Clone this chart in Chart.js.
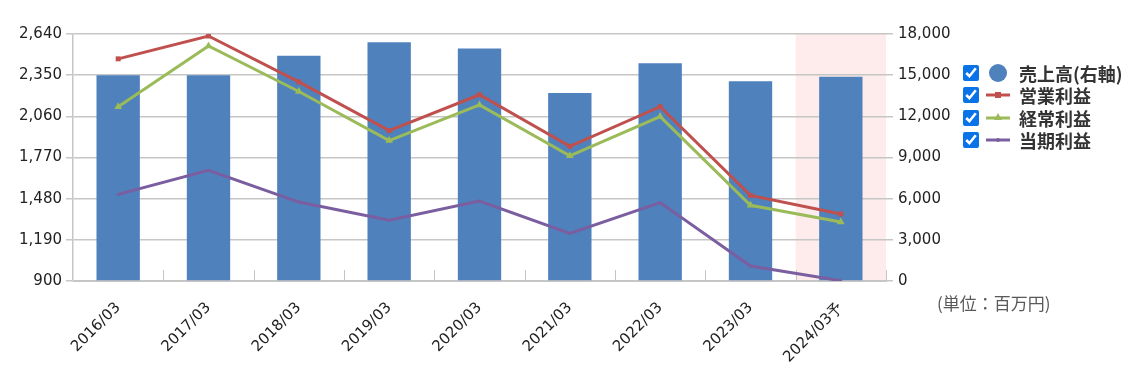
<!DOCTYPE html>
<html>
<head>
<meta charset="utf-8">
<script src="https://cdn.jsdelivr.net/npm/chart.js@4.4.1/dist/chart.umd.min.js"></script>
<style>
  html, body { margin: 0; padding: 0; background: #fff; }
  #wrap { position: relative; width: 1136px; height: 376px; }
  #c { position: absolute; left: 0; top: 0; }
  #legend { position: absolute; left: 963px; top: 62px; font-family: "Noto Sans CJK JP", sans-serif; font-weight: bold; font-size: 18px; color: #333; }
  .row { display: flex; align-items: center; height: 22.3px; }
  .row input { margin: 0 6px 0 0; width: 16px; height: 16px; accent-color: #0a73e8; }
  .ico { width: 26px; height: 18px; position: relative; margin-right: 8px; }
  #unit { position: absolute; left: 937px; top: 290px; font-family: "Noto Sans CJK JP", sans-serif; font-size: 17px; color: #595959; }
</style>
</head>
<body>
<div id="wrap">
  <canvas id="c" width="1136" height="376"></canvas>
  <div id="legend"></div>
  <div id="unit">(単位：百万円)</div>
</div>
<script>
const categories = ["2016/03","2017/03","2018/03","2019/03","2020/03","2021/03","2022/03","2023/03","2024/03予"];
const sales = [15000, 15000, 16420, 17400, 16950, 13700, 15870, 14560, 14880];
const operatingProfit = [2465, 2626, 2303, 1959, 2212, 1849, 2128, 1503, 1372];
const ordinaryProfit = [2128, 2556, 2235, 1889, 2140, 1782, 2058, 1433, 1316];
const netProfit = [1510, 1679, 1456, 1328, 1463, 1235, 1452, 1005, 902];
const leftTicks = [900, 1190, 1480, 1770, 2060, 2350, 2640];
const rightTicks = [0, 3000, 6000, 9000, 12000, 15000, 18000];
const forecastIndex = 8;

const GRID = '#c6c6c6';
const tickFont = { family: 'DejaVu Sans', size: 15 };

const bandPlugin = {
  id: 'band',
  beforeDraw(chart) {
    const { ctx, chartArea, scales } = chart;
    const x = scales.x;
    const half = (x.getPixelForValue(1) - x.getPixelForValue(0)) / 2;
    const cx = x.getPixelForValue(forecastIndex);
    ctx.save();
    ctx.fillStyle = '#fdeceb';
    ctx.fillRect(cx - half, chartArea.top, half * 2, chartArea.bottom - chartArea.top);
    ctx.restore();
  },
  beforeDatasetsDraw(chart) {
    const { ctx, chartArea, scales } = chart;
    const x = scales.x;
    const half = (x.getPixelForValue(1) - x.getPixelForValue(0)) / 2;
    ctx.save();
    ctx.strokeStyle = GRID;
    ctx.lineWidth = 1;
    for (let i = 0; i < categories.length; i++) {
      const px = Math.round(x.getPixelForValue(i) + half) + 0.5;
      ctx.beginPath();
      ctx.moveTo(px, chartArea.bottom - 11);
      ctx.lineTo(px, chartArea.bottom);
      ctx.stroke();
    }
    ctx.restore();
  }
};

const chart = new Chart(document.getElementById('c'), {
  type: 'bar',
  data: {
    labels: categories,
    datasets: [
      { type: 'line', label: '営業利益', data: operatingProfit, yAxisID: 'yL', borderColor: '#c0504d', backgroundColor: '#c0504d', borderWidth: 3, pointStyle: 'rect', pointRadius: 3.5, pointBorderWidth: 0, order: 1, tension: 0 },
      { type: 'line', label: '経常利益', data: ordinaryProfit, yAxisID: 'yL', borderColor: '#9bbb59', backgroundColor: '#9bbb59', borderWidth: 3, pointStyle: 'triangle', pointRadius: 4.5, pointBorderWidth: 0, order: 2, tension: 0 },
      { type: 'line', label: '当期利益', data: netProfit, yAxisID: 'yL', borderColor: '#7a5ea0', backgroundColor: '#7a5ea0', borderWidth: 3, pointRadius: 1.5, pointBorderWidth: 0, order: 3, tension: 0 },
      { type: 'bar', label: '売上高(右軸)', data: sales, yAxisID: 'yR', backgroundColor: '#4f81bd', barPercentage: 0.48, categoryPercentage: 1, order: 10 }
    ]
  },
  options: {
    responsive: false,
    animation: false,
    devicePixelRatio: 1,
    layout: { padding: { left: 0, right: 180, top: 34, bottom: 0 } },
    plugins: { legend: { display: false }, tooltip: { enabled: false } },
    scales: {
      x: {
        offset: true,
        grid: { display: false },
        border: { display: true, color: GRID },
        ticks: { color: '#222', font: tickFont, maxRotation: 45, minRotation: 45, padding: 10, autoSkip: false },
        afterFit(s) { s.height = 95; }
      },
      yL: {
        position: 'left',
        min: 900, max: 2640,
        afterBuildTicks(s) { s.ticks = leftTicks.map(v => ({ value: v })); },
        grid: { color: GRID, lineWidth: 1.5, tickLength: 7 },
        border: { display: true, color: GRID, width: 1.5 },
        ticks: { color: '#222', font: tickFont, padding: 4, callback: v => v.toLocaleString('en-US') },
        afterFit(s) { s.width = 73; }
      },
      yR: {
        position: 'right',
        min: 0, max: 18000,
        afterBuildTicks(s) { s.ticks = rightTicks.map(v => ({ value: v })); },
        grid: { drawOnChartArea: false, color: GRID, lineWidth: 1.5, tickLength: 7 },
        border: { display: false },
        ticks: { color: '#222', font: tickFont, padding: 5, callback: v => v.toLocaleString('en-US') },
        afterFit(s) { s.width = 70; }
      }
    }
  },
  plugins: [bandPlugin]
});

// HTML legend built from the datasets (bar first)
const legend = document.getElementById('legend');
const legendOrder = [3, 0, 1, 2];
legendOrder.forEach(i => {
  const ds = chart.data.datasets[i];
  const row = document.createElement('div');
  row.className = 'row';
  const cb = document.createElement('input');
  cb.type = 'checkbox';
  cb.checked = true;
  row.appendChild(cb);
  const ico = document.createElement('canvas');
  ico.width = 26; ico.height = 18; ico.className = 'ico';
  const g = ico.getContext('2d');
  if (ds.type === 'bar') {
    g.fillStyle = ds.backgroundColor;
    g.beginPath(); g.arc(13, 9, 9, 0, Math.PI * 2); g.fill();
  } else {
    g.strokeStyle = ds.borderColor; g.lineWidth = 3;
    g.beginPath(); g.moveTo(1, 9); g.lineTo(25, 9); g.stroke();
    g.fillStyle = ds.borderColor;
    if (ds.pointStyle === 'rect') g.fillRect(10, 6, 6, 6);
    else if (ds.pointStyle === 'triangle') { g.beginPath(); g.moveTo(13, 4); g.lineTo(17, 11); g.lineTo(9, 11); g.closePath(); g.fill(); }
    else { g.beginPath(); g.arc(13, 9, 2, 0, Math.PI * 2); g.fill(); }
  }
  row.appendChild(ico);
  const t = document.createElement('span');
  t.textContent = ds.label;
  row.appendChild(t);
  legend.appendChild(row);
});
</script>
</body>
</html>
